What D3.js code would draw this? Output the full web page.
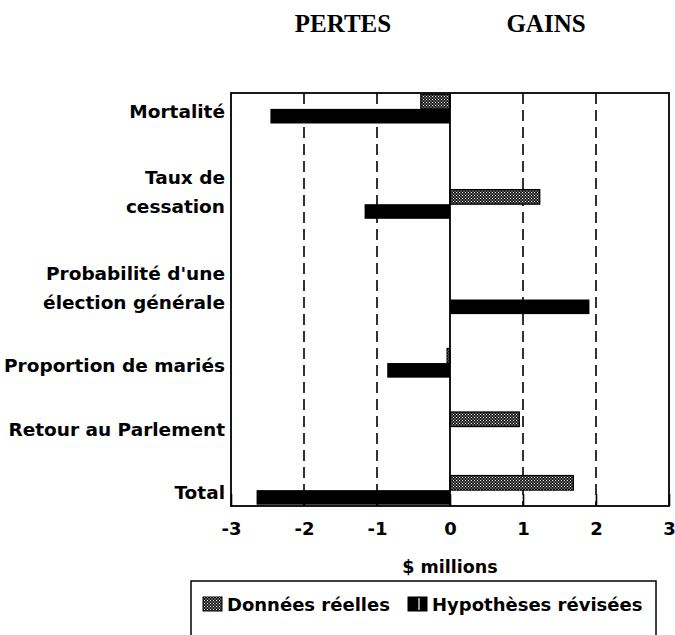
<!DOCTYPE html>
<html>
<head>
<meta charset="utf-8">
<script src="https://cdn.jsdelivr.net/npm/d3@7"></script>
<style>
  body { margin: 0; background: #fff; }
  text { font-family: "DejaVu Sans", "Liberation Sans", Arial, sans-serif; font-weight: bold; fill: #000; }
  .title { font-family: "Liberation Serif", "Times New Roman", serif; }
</style>
</head>
<body>
<svg width="675" height="635"></svg>
<script>
// data ($ millions)
const categories = ["Mortalité", "Taux de cessation", "Probabilité d'une élection générale",
  "Proportion de mariés", "Retour au Parlement", "Total"];
const labelLines = [["Mortalité"], ["Taux de", "cessation"], ["Probabilité d'une", "élection générale"],
  ["Proportion de mariés"], ["Retour au Parlement"], ["Total"]];
const donnees = [-0.4, 1.23, 0, -0.04, 0.95, 1.69];
const hypotheses = [-2.46, -1.17, 1.91, -0.86, 0, -2.65];
const xTicks = [-3, -2, -1, 0, 1, 2, 3];
const seriesNames = ["Données réelles", "Hypothèses révisées"];

const svg = d3.select("svg");
const margin = { left: 231, right: 6, top: 93, bottom: 129 };
const width = +svg.attr("width");
const height = +svg.attr("height");

// stipple pattern for "Données réelles" (dark screen with white dots)
const defs = svg.append("defs");
const pat = defs.append("pattern").attr("id", "dots")
  .attr("width", 3).attr("height", 3).attr("patternUnits", "userSpaceOnUse");
pat.append("rect").attr("width", 3).attr("height", 3).attr("fill", "#1a1a1a");
pat.append("rect").attr("width", 1).attr("height", 1).attr("fill", "#f4f4f4");
pat.append("rect").attr("x", 1.5).attr("y", 1.5).attr("width", 1).attr("height", 1).attr("fill", "#f4f4f4");

// rows: two-line labels get an extra empty slot above them
const slots = [];
categories.forEach((c, i) => {
  if (i > 0) for (let k = 0; k < labelLines[i].length; k++) slots.push("_" + i + "_" + k);
  slots.push(c);
});

const xScale = d3.scaleLinear().domain([-3, 3]).range([margin.left, width - margin.right]);
const yScale = d3.scaleBand().domain(slots).range([margin.top, height - margin.bottom]);
const barH = yScale.bandwidth() * 0.46;

const plot = svg.append("g");

// dashed gridlines
plot.selectAll("line.grid")
  .data(xTicks.filter(d => d !== 0 && Math.abs(d) !== 3))
  .join("line")
  .attr("class", "grid")
  .attr("x1", d => xScale(d)).attr("x2", d => xScale(d))
  .attr("y1", margin.top).attr("y2", height - margin.bottom)
  .attr("stroke", "#000").attr("stroke-width", 1.6)
  .attr("stroke-dasharray", "11,6");

// bars
const rows = categories.map((c, i) => ({ c, d: donnees[i], h: hypotheses[i] }));
const mid = (r) => yScale(r.c) + yScale.bandwidth() / 2;

plot.selectAll("rect.don")
  .data(rows.filter(r => r.d !== 0))
  .join("rect")
  .attr("class", "don")
  .attr("x", r => xScale(Math.min(0, r.d)))
  .attr("width", r => Math.abs(xScale(r.d) - xScale(0)))
  .attr("y", r => mid(r) - barH)
  .attr("height", barH)
  .attr("fill", "url(#dots)")
  .attr("stroke", "#000").attr("stroke-width", 1.2);

plot.selectAll("rect.hyp")
  .data(rows.filter(r => r.h !== 0))
  .join("rect")
  .attr("class", "hyp")
  .attr("x", r => xScale(Math.min(0, r.h)))
  .attr("width", r => Math.abs(xScale(r.h) - xScale(0)))
  .attr("y", r => mid(r))
  .attr("height", barH)
  .attr("fill", "#000");

// zero line
plot.append("line")
  .attr("x1", xScale(0)).attr("x2", xScale(0))
  .attr("y1", margin.top).attr("y2", height - margin.bottom)
  .attr("stroke", "#000").attr("stroke-width", 1.8);

// frame
plot.append("rect")
  .attr("x", margin.left).attr("y", margin.top)
  .attr("width", width - margin.left - margin.right)
  .attr("height", height - margin.top - margin.bottom)
  .attr("fill", "none").attr("stroke", "#000").attr("stroke-width", 1.8);

// x axis
const xAxis = svg.append("g")
  .attr("transform", `translate(0,${height - margin.bottom})`)
  .call(d3.axisBottom(xScale).tickValues(xTicks).tickFormat(d => String(d))
    .tickSize(-12).tickPadding(16).tickSizeOuter(0))
  .call(g => g.select(".domain").remove());
xAxis.selectAll(".tick line").attr("stroke", "#000").attr("stroke-width", 1.6);
xAxis.selectAll(".tick text")
  .style("font-family", "'DejaVu Sans', 'Liberation Sans', Arial, sans-serif")
  .style("font-weight", "bold").attr("font-size", 18).attr("fill", "#000");

svg.append("text")
  .attr("x", xScale(0)).attr("y", 573)
  .attr("text-anchor", "middle").attr("font-size", 17.5)
  .text("$ millions");

// category labels
svg.append("g").selectAll("text")
  .data(rows)
  .join("text")
  .attr("text-anchor", "end")
  .attr("font-size", 18.5)
  .each(function (r, i) {
    const lines = labelLines[i];
    const t = d3.select(this);
    lines.forEach((ln, k) => {
      t.append("tspan")
        .attr("x", margin.left - 6)
        .attr("y", mid(r) + 9 - (lines.length - 1 - k) * 29)
        .text(ln);
    });
  });

// titles
svg.append("text").attr("class", "title")
  .attr("x", 343).attr("y", 32).attr("text-anchor", "middle").attr("font-size", 25)
  .text("PERTES");
svg.append("text").attr("class", "title")
  .attr("x", 546).attr("y", 32).attr("text-anchor", "middle").attr("font-size", 25)
  .text("GAINS");

// legend (box runs past the bottom edge, as in the scan)
const legend = svg.append("g");
legend.append("rect")
  .attr("x", 191).attr("y", 581).attr("width", 465).attr("height", 70)
  .attr("fill", "none").attr("stroke", "#000").attr("stroke-width", 1.5);
const lx = [203, 408];
legend.selectAll("rect.sw")
  .data(seriesNames)
  .join("rect")
  .attr("class", "sw")
  .attr("x", (d, i) => lx[i]).attr("y", 597)
  .attr("width", 19).attr("height", 14)
  .attr("fill", (d, i) => i === 0 ? "url(#dots)" : "#000")
  .attr("stroke", "#000").attr("stroke-width", 1);
legend.append("line")
  .attr("x1", 419).attr("x2", 419).attr("y1", 598).attr("y2", 610)
  .attr("stroke", "#fff").attr("stroke-width", 1.2);
legend.selectAll("text")
  .data(seriesNames)
  .join("text")
  .attr("x", (d, i) => lx[i] + 24).attr("y", 611)
  .attr("font-size", 18)
  .text(d => d);
</script>
</body>
</html>
